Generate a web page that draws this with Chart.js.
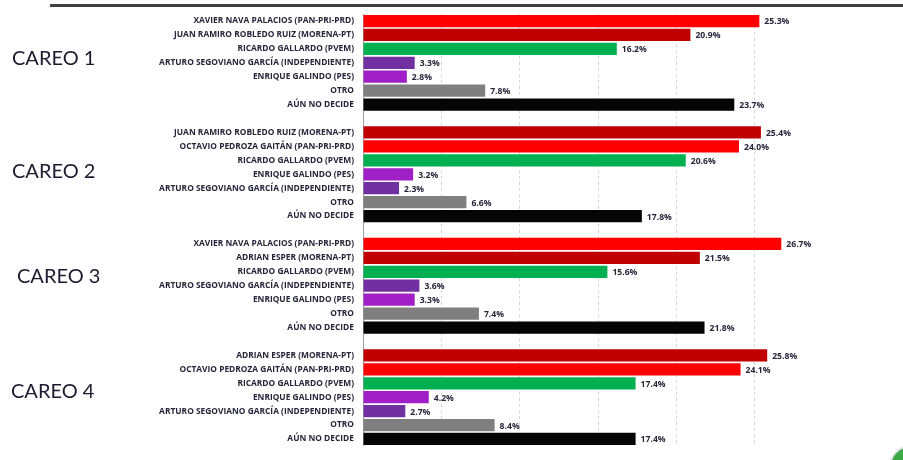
<!DOCTYPE html>
<html>
<head>
<meta charset="utf-8">
<script src="https://cdn.jsdelivr.net/npm/chart.js@4.4.0/dist/chart.umd.min.js"></script>
<style>
  body { margin: 0; background: #fff; }
  .wrap { position: relative; width: 903px; height: 460px; overflow: hidden; }
  .topLine { position: absolute; left: 50px; right: 0; top: 4px; height: 3px; background: #404040; }
  .careo { position: absolute; font-family: Lato, sans-serif; font-size: 20px; line-height: 20px; color: #1b1b2f; white-space: nowrap; }
  .corner { position: absolute; left: 889px; top: 445px; width: 40px; height: 40px; border-radius: 50%; background: #3aa845; border: 2px solid #e2e2e2; }
</style>
</head>
<body>
<div class="wrap">
  <canvas id="chart" width="903" height="460"></canvas>
  <div class="topLine"></div>
  <div class="careo" style="left:12px; top:47px;">CAREO 1</div>
  <div class="careo" style="left:12px; top:160px;">CAREO 2</div>
  <div class="careo" style="left:17px; top:265px;">CAREO 3</div>
  <div class="careo" style="left:11px; top:380px;">CAREO 4</div>
  <div class="corner"></div>
</div>
<script>
const careo1Labels = [
  "XAVIER NAVA PALACIOS (PAN-PRI-PRD)",
  "JUAN RAMIRO ROBLEDO RUIZ (MORENA-PT)",
  "RICARDO GALLARDO (PVEM)",
  "ARTURO SEGOVIANO GARCÍA (INDEPENDIENTE)",
  "ENRIQUE GALINDO (PES)",
  "OTRO",
  "AÚN NO DECIDE",
];
const careo1Values = [25.3, 20.9, 16.2, 3.3, 2.8, 7.8, 23.7];

const careo2Labels = [
  "JUAN RAMIRO ROBLEDO RUIZ (MORENA-PT)",
  "OCTAVIO PEDROZA GAITÁN (PAN-PRI-PRD)",
  "RICARDO GALLARDO (PVEM)",
  "ENRIQUE GALINDO (PES)",
  "ARTURO SEGOVIANO GARCÍA (INDEPENDIENTE)",
  "OTRO",
  "AÚN NO DECIDE",
];
const careo2Values = [25.4, 24.0, 20.6, 3.2, 2.3, 6.6, 17.8];

const careo3Labels = [
  "XAVIER NAVA PALACIOS (PAN-PRI-PRD)",
  "ADRIAN ESPER (MORENA-PT)",
  "RICARDO GALLARDO (PVEM)",
  "ARTURO SEGOVIANO GARCÍA (INDEPENDIENTE)",
  "ENRIQUE GALINDO (PES)",
  "OTRO",
  "AÚN NO DECIDE",
];
const careo3Values = [26.7, 21.5, 15.6, 3.6, 3.3, 7.4, 21.8];

const careo4Labels = [
  "ADRIAN ESPER (MORENA-PT)",
  "OCTAVIO PEDROZA GAITÁN (PAN-PRI-PRD)",
  "RICARDO GALLARDO (PVEM)",
  "ENRIQUE GALINDO (PES)",
  "ARTURO SEGOVIANO GARCÍA (INDEPENDIENTE)",
  "OTRO",
  "AÚN NO DECIDE",
];
const careo4Values = [25.8, 24.1, 17.4, 4.2, 2.7, 8.4, 17.4];

const xTicks = [0, 5, 10, 15, 20, 25, 30];

// color by party / option
const barColor = (label) => {
  if (label.includes("INDEPENDIENTE")) return "#7030a0";
  if (label.includes("PAN-PRI-PRD")) return "#ff0000";
  if (label.includes("MORENA")) return "#c00000";
  if (label.includes("PVEM")) return "#00b050";
  if (label.includes("PES")) return "#a01fc6";
  if (label === "OTRO") return "#7f7f7f";
  return "#050505";
};

// stack the four careos in one chart, with an empty row between them
const groups = [
  [careo1Labels, careo1Values],
  [careo2Labels, careo2Values],
  [careo3Labels, careo3Values],
  [careo4Labels, careo4Values],
];
const labels = [];
const values = [];
groups.forEach(([l, v], i) => {
  if (i > 0) {
    labels.push("");
    values.push(null);
  }
  labels.push(...l);
  values.push(...v);
});
const colors = labels.map((l) => (l ? barColor(l) : "transparent"));

const labelFont = "'Open Sans', sans-serif";

const valueLabels = {
  id: "valueLabels",
  afterDatasetsDraw(chart) {
    const { ctx } = chart;
    const meta = chart.getDatasetMeta(0);
    ctx.save();
    ctx.font = "bold 8.6px " + labelFont;
    ctx.fillStyle = "#26263a";
    ctx.textBaseline = "middle";
    ctx.textAlign = "left";
    meta.data.forEach((bar, i) => {
      const v = values[i];
      if (v == null) return;
      ctx.fillText(v.toFixed(1) + "%", bar.x + 5, bar.y + 1);
    });
    ctx.restore();
  },
};

new Chart(document.getElementById("chart"), {
  type: "bar",
  data: {
    labels: labels,
    datasets: [
      {
        data: values,
        backgroundColor: colors,
        borderWidth: 0,
        barPercentage: 0.88,
        categoryPercentage: 1,
      },
    ],
  },
  options: {
    indexAxis: "y",
    responsive: false,
    animation: false,
    layout: { padding: { top: 7, right: 70, bottom: 0, left: 0 } },
    plugins: {
      legend: { display: false },
      tooltip: { enabled: false },
    },
    scales: {
      x: {
        min: xTicks[0],
        max: xTicks[xTicks.length - 1],
        afterBuildTicks: (scale) => {
          scale.ticks = xTicks.map((t) => ({ value: t }));
        },
        ticks: { display: false },
        grid: {
          drawTicks: false,
          color: (c) => (c.tick && c.tick.value > 0 && c.tick.value < 30 ? "#d6d6d6" : "transparent"),
        },
        border: { display: false, dash: [3, 3] },
        afterFit: (scale) => {
          scale.height = 0;
        },
      },
      y: {
        ticks: {
          autoSkip: false,
          padding: 9,
          color: "#26263a",
          font: { family: labelFont, size: 8.4, weight: "bold" },
        },
        grid: { display: false, drawTicks: false },
        border: { display: true, color: "#a0a0a0" },
        afterFit: (scale) => {
          scale.width = 363;
        },
      },
    },
  },
  plugins: [valueLabels],
});
</script>
</body>
</html>
